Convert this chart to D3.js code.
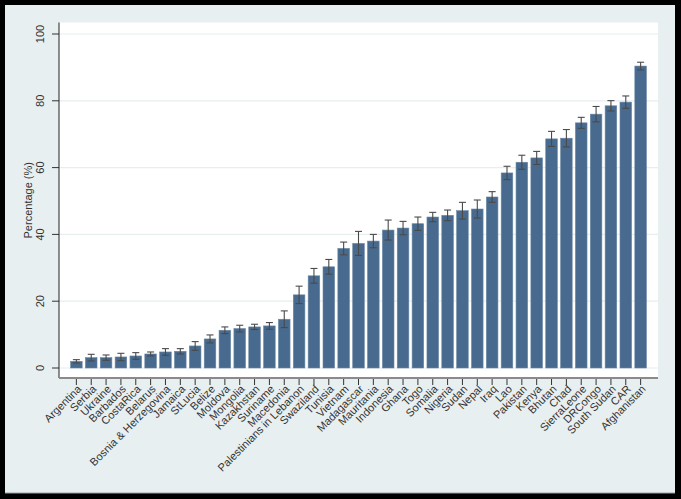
<!DOCTYPE html>
<html>
<head>
<meta charset="utf-8">
<script src="https://cdn.jsdelivr.net/npm/d3@7"></script>
<style>
html,body{margin:0;padding:0;background:#000;}
svg{display:block;}
text{font-family:"Liberation Sans",Arial,Helvetica,sans-serif;}
</style>
</head>
<body>
<svg id="chart" width="681" height="499"></svg>
<script>
const categories = ["Argentina","Serbia","Ukraine","Barbados","CostaRica","Belarus","Bosnia & Herzegovina","Jamaica","StLucia","Belize","Moldova","Mongolia","Kazakhstan","Suriname","Macedonia","Palestinians in Lebanon","Swaziland","Tunisia","Vietnam","Madagascar","Mauritania","Indonesia","Ghana","Togo","Somalia","Nigeria","Sudan","Nepal","Iraq","Lao","Pakistan","Kenya","Bhutan","Chad","SierraLeone","DRCongo","South Sudan","CAR","Afghanistan"];
const values = [2.0,3.1,3.1,3.3,3.6,4.2,4.8,5.0,6.6,8.7,11.3,11.8,12.3,12.6,14.6,21.9,27.6,30.3,35.8,37.3,38.0,41.3,41.9,43.2,45.2,45.7,47.1,47.6,51.2,58.4,61.6,62.9,68.6,68.8,73.4,76.0,78.5,79.6,90.4];
const errors = [0.5,1.0,0.8,1.1,1.0,0.6,1.0,0.8,1.3,1.2,1.0,1.0,0.8,1.0,2.5,2.6,2.2,2.2,1.9,3.6,2.0,3.0,2.0,2.0,1.4,1.6,2.5,2.7,1.6,2.0,2.1,1.95,2.25,2.6,1.65,2.3,1.55,1.85,1.15];
const yTicks = [0,20,40,60,80,100];
const yTitle = "Percentage (%)";

const svg = d3.select("#chart");
// background
svg.append("rect").attr("x",0).attr("y",0).attr("width",681).attr("height",499).attr("fill","#000");
svg.append("rect").attr("x",5).attr("y",5).attr("width",670).attr("height",488).attr("fill","#e8eff1");
svg.append("line").attr("x1",5).attr("x2",675).attr("y1",493).attr("y2",493).attr("stroke","#9a9fa2").attr("stroke-width",1);

const plotL = 59, plotR = 658, plotT = 22.5, plotB = 378;
svg.append("rect").attr("x",plotL).attr("y",plotT).attr("width",plotR-plotL).attr("height",plotB-plotT).attr("fill","#fff");

const x = d3.scaleBand().domain(categories).range([plotL, plotR]).paddingInner(0.22).paddingOuter(0.78);
const y = d3.scaleLinear().domain([0,100]).range([368, 34]);

// grid
svg.append("g").selectAll("line").data(yTicks).join("line")
  .attr("x1",plotL).attr("x2",plotR)
  .attr("y1",d=>y(d)).attr("y2",d=>y(d))
  .attr("stroke","#e6eef0").attr("stroke-width",1.2);

// bars
svg.append("g").selectAll("rect").data(categories).join("rect")
  .attr("x",d=>x(d)).attr("width",x.bandwidth())
  .attr("y",(d,i)=>y(values[i])).attr("height",(d,i)=>y(0)-y(values[i]))
  .attr("fill","#476a8e").attr("stroke","#6a86a3").attr("stroke-width",0.6);

// error bars
const eg = svg.append("g").attr("stroke","#4a4a4a").attr("stroke-width",1.1);
categories.forEach((c,i)=>{
  const cx = x(c)+x.bandwidth()/2;
  const y1 = y(values[i]+errors[i]), y2 = y(values[i]-errors[i]);
  eg.append("line").attr("x1",cx).attr("x2",cx).attr("y1",y1).attr("y2",y2);
  eg.append("line").attr("x1",cx-3.5).attr("x2",cx+3.5).attr("y1",y1).attr("y2",y1);
  eg.append("line").attr("x1",cx-3.5).attr("x2",cx+3.5).attr("y1",y2).attr("y2",y2);
});

// y axis
const yAxis = d3.axisLeft(y).tickValues(yTicks).tickSize(7).tickPadding(8);
const yg = svg.append("g").attr("transform",`translate(${plotL},0)`).call(yAxis);
yg.select(".domain").remove();
yg.selectAll(".tick line").attr("stroke","#333");
yg.selectAll(".tick text")
  .attr("font-size",11).attr("fill","#333")
  .attr("transform",d=>`rotate(-90,${-15},${y(d)})`)
  .attr("x",-15).attr("y",d=>y(d)).attr("dy","0")
  .attr("text-anchor","middle")
  .attr("dominant-baseline","auto");
yg.selectAll(".tick").attr("transform",null);
yg.selectAll(".tick line").attr("y1",d=>y(d)).attr("y2",d=>y(d));
yg.selectAll(".tick text").attr("dy","0.0em");
svg.append("line").attr("x1",plotL).attr("x2",plotL).attr("y1",plotT).attr("y2",plotB).attr("stroke","#222").attr("stroke-width",1);

svg.append("text").attr("transform",`translate(32,${(plotT+plotB)/2}) rotate(-90)`)
  .attr("text-anchor","middle").attr("font-size",11).attr("fill","#333").text(yTitle);

// x axis
const xAxis = d3.axisBottom(x).tickSize(7).tickPadding(3);
const xg = svg.append("g").attr("transform",`translate(0,${plotB})`).call(xAxis);
xg.select(".domain").remove();
xg.selectAll(".tick line").attr("stroke","#333");
xg.selectAll(".tick text")
  .attr("font-size",11).attr("fill","#333")
  .attr("text-anchor","end")
  .attr("transform","translate(3,9) rotate(-45)")
  .attr("x",0).attr("y",0).attr("dy","0.35em");
svg.append("line").attr("x1",plotL).attr("x2",plotR).attr("y1",plotB).attr("y2",plotB).attr("stroke","#8a8a8a").attr("stroke-width",2);
</script>
</body>
</html>
